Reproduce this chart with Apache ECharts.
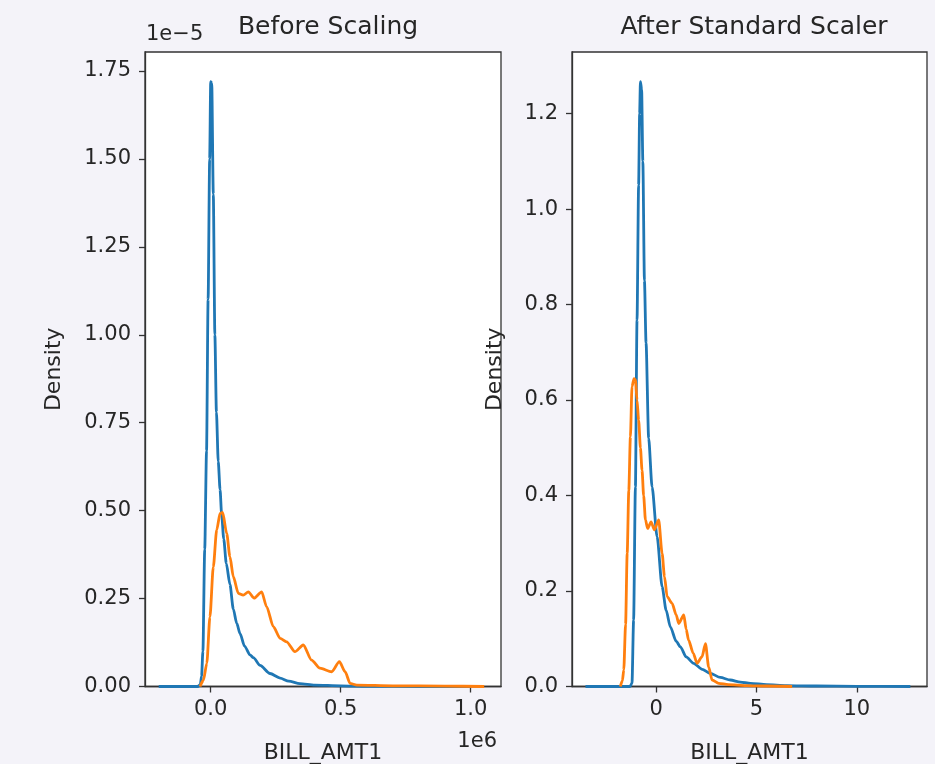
<!DOCTYPE html>
<html>
<head>
<meta charset="utf-8">
<script src="https://cdn.jsdelivr.net/npm/echarts@6/dist/echarts.min.js"></script>
<style>
html,body{margin:0;padding:0;background:#f4f3f9;}
#chart{width:935px;height:764px;}
</style>
</head>
<body>
<div id="chart"></div>
<script>
// ---- Data (values as displayed; left panel x in units of 1e6, y in units of 1e-5) ----
const leftTitle = 'Before Scaling';
const rightTitle = 'After Standard Scaler';
const xLabel = 'BILL_AMT1';
const yLabel = 'Density';

const leftXTicks = [0.0, 0.5, 1.0];
const leftYTicks = [0.00, 0.25, 0.50, 0.75, 1.00, 1.25, 1.50, 1.75];
const rightXTicks = [0, 5, 10];
const rightYTicks = [0.0, 0.2, 0.4, 0.6, 0.8, 1.0, 1.2];

const leftBlue = [[-0.2,0],[-0.05,0],[-0.04,0.005],[-0.035,0.03],[-0.03,0.1],[-0.023,0.39],[-0.016,0.67],[-0.01,1.1],[-0.004,1.5],[0.0,1.72],[0.004,1.715],[0.01,1.4],[0.016,1.0],[0.022,0.78],[0.029,0.64],[0.036,0.56],[0.042,0.49],[0.05,0.42],[0.06,0.35],[0.074,0.29],[0.087,0.22],[0.1,0.18],[0.113,0.15],[0.13,0.115],[0.151,0.09],[0.164,0.082],[0.19,0.06],[0.228,0.037],[0.267,0.024],[0.3,0.015],[0.343,0.008],[0.4,0.004],[0.5,0.002],[0.6,0.0005],[0.8,0],[1.0,0]];
const leftOrange = [[-0.041,0],[-0.028,0.018],[-0.015,0.066],[-0.003,0.198],[0.01,0.34],[0.023,0.445],[0.036,0.492],[0.046,0.495],[0.0615,0.435],[0.074,0.369],[0.087,0.312],[0.106,0.265],[0.125,0.26],[0.145,0.269],[0.167,0.251],[0.196,0.269],[0.215,0.227],[0.241,0.17],[0.267,0.137],[0.292,0.127],[0.324,0.099],[0.356,0.118],[0.388,0.075],[0.42,0.052],[0.465,0.042],[0.495,0.0705],[0.517,0.042],[0.536,0.009],[0.562,0.004],[0.7,0.002],[0.9,0.001],[1.052,0]];

const rightBlue = [[-3.52,0],[-1.3,0],[-1.2,0.007],[-1.12,0.139],[-1.03,0.418],[-0.95,0.767],[-0.87,1.05],[-0.82,1.2],[-0.78,1.267],[-0.72,1.25],[-0.66,1.1],[-0.58,0.85],[-0.5,0.72],[-0.37,0.52],[-0.2,0.418],[0.05,0.314],[0.3,0.209],[0.5,0.16],[0.71,0.125],[1.0,0.095],[1.21,0.083],[1.5,0.062],[1.87,0.0486],[2.3,0.036],[2.7,0.0276],[3.2,0.019],[3.7,0.0136],[4.2,0.009],[4.7,0.0067],[5.5,0.004],[6.5,0.002],[8,0.001],[10,0.0003],[12.67,0]];
const rightOrange = [[-1.78,0],[-1.68,0.012],[-1.61,0.035],[-1.52,0.13],[-1.44,0.279],[-1.36,0.41],[-1.28,0.523],[-1.2,0.628],[-1.1,0.645],[-1.03,0.642],[-0.95,0.6],[-0.87,0.558],[-0.78,0.5],[-0.70,0.453],[-0.62,0.4],[-0.53,0.349],[-0.42,0.331],[-0.25,0.345],[-0.085,0.328],[0.13,0.349],[0.3,0.279],[0.42,0.23],[0.55,0.188],[0.8,0.174],[1.0,0.15],[1.13,0.132],[1.38,0.150],[1.5,0.12],[1.62,0.097],[1.85,0.07],[2.04,0.0486],[2.29,0.0624],[2.46,0.09],[2.62,0.041],[2.79,0.0136],[3.12,0.0067],[3.6,0.004],[4.5,0.002],[5.5,0.001],[6.78,0]];

// ---- Styling ----
const FONT = 'DejaVu Sans';
const TXT = '#262626';
const BLUE = '#1f77b4';
const ORANGE = '#ff7f0e';

function xAxisCfg(idx, min, max, ticks, fmt) {
  return {
    type: 'value', gridIndex: idx, min: min, max: max,
    name: xLabel, nameLocation: 'middle', nameGap: 56,
    nameTextStyle: {fontFamily: FONT, fontSize: 22, color: TXT},
    splitLine: {show: false},
    axisLine: {show: true, onZero: false, lineStyle: {color: '#333', width: 1.3}},
    axisTick: {show: true, length: 6, inside: false, customValues: ticks, lineStyle: {color: '#333', width: 1.3}},
    axisLabel: {customValues: ticks, formatter: fmt, margin: 13, fontFamily: FONT, fontSize: 21, color: TXT}
  };
}
function yAxisCfg(idx, min, max, ticks, fmt, gap) {
  return {
    type: 'value', gridIndex: idx, min: min, max: max,
    name: yLabel, nameLocation: 'middle', nameGap: gap, nameRotate: 90,
    nameTextStyle: {fontFamily: FONT, fontSize: 22, color: TXT},
    splitLine: {show: false},
    axisLine: {show: true, onZero: false, lineStyle: {color: '#333', width: 1.3}},
    axisTick: {show: true, length: 6, inside: false, customValues: ticks, lineStyle: {color: '#333', width: 1.3}},
    axisLabel: {customValues: ticks, formatter: fmt, margin: 14, fontFamily: FONT, fontSize: 21, color: TXT}
  };
}
function lineSeries(xi, data, color) {
  return {
    type: 'line', xAxisIndex: xi, yAxisIndex: xi, data: data,
    showSymbol: false, smooth: 0.25, smoothMonotone: 'x',
    lineStyle: {color: color, width: 2.8}, itemStyle: {color: color},
    animation: false
  };
}

const chart = echarts.init(document.getElementById('chart'), null, {renderer: 'canvas'});
chart.setOption({
  backgroundColor: '#f4f3f9',
  animation: false,
  grid: [
    {left: 145, top: 52, width: 356, height: 634.5, containLabel: false, outerBoundsMode: 'none', show: true, backgroundColor: '#ffffff', borderColor: '#333', borderWidth: 1.3},
    {left: 572, top: 52, width: 355, height: 634.5, containLabel: false, outerBoundsMode: 'none', show: true, backgroundColor: '#ffffff', borderColor: '#333', borderWidth: 1.3}
  ],
  xAxis: [
    xAxisCfg(0, -0.2527, 1.1165, leftXTicks, v => v.toFixed(1)),
    xAxisCfg(1, -4.19, 13.5, rightXTicks, v => String(Math.round(v)))
  ],
  yAxis: [
    yAxisCfg(0, 0, 1.804, leftYTicks, v => v.toFixed(2), 80),
    yAxisCfg(1, 0, 1.329, rightYTicks, v => v.toFixed(1), 66)
  ],
  title: [
    {text: leftTitle, left: 323, top: 10, textAlign: 'center', textStyle: {fontFamily: FONT, fontSize: 25, fontWeight: 'normal', color: TXT}},
    {text: rightTitle, left: 749, top: 10, textAlign: 'center', textStyle: {fontFamily: FONT, fontSize: 25, fontWeight: 'normal', color: TXT}}
  ],
  graphic: [
    {type: 'text', left: 146, top: 24, style: {text: '1e\u22125', fontFamily: FONT, fontSize: 21, fill: TXT}},
    {type: 'text', right: 438, top: 731, style: {text: '1e6', fontFamily: FONT, fontSize: 21, fill: TXT}}
  ],
  series: [
    lineSeries(0, leftBlue, BLUE),
    lineSeries(0, leftOrange, ORANGE),
    lineSeries(1, rightBlue, BLUE),
    lineSeries(1, rightOrange, ORANGE)
  ]
});
</script>
</body>
</html>
